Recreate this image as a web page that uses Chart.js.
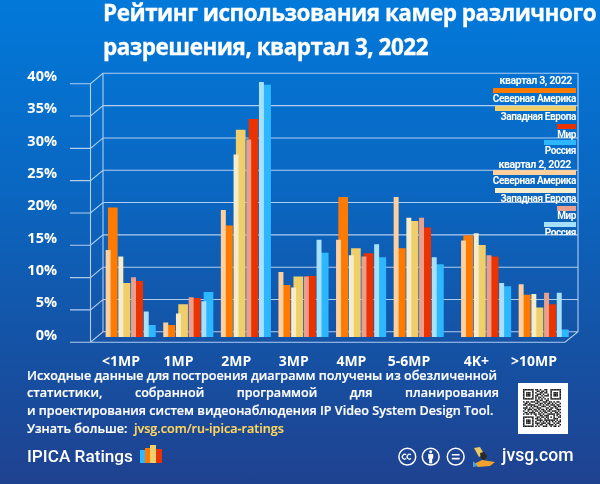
<!DOCTYPE html>
<html>
<head>
<meta charset="utf-8">
<script src="https://cdn.jsdelivr.net/npm/chart.js@4/dist/chart.umd.min.js"></script>
<style>
html,body{margin:0;padding:0;}
body{width:600px;height:484px;position:relative;overflow:hidden;color:#fff;
  font-family:"Open Sans",sans-serif;font-weight:700;
  background:linear-gradient(180deg,#0279da 0%,#0a66c0 40%,#1650a2 75%,#1f4290 100%);}
#chart{position:absolute;left:0;top:0;}
.t{position:absolute;white-space:nowrap;}
.title{left:103px;font-size:22.5px;line-height:30px;letter-spacing:-0.5px;-webkit-text-stroke:0.3px #fff;}
.note{left:27px;width:472px;font-size:12.6px;line-height:18px;font-weight:600;-webkit-text-stroke:0.2px currentColor;}
.just{text-align:justify;text-align-last:justify;white-space:normal;}
.brand{font-family:Roboto,sans-serif;font-weight:500;}
.lg{position:absolute;font-family:Roboto,sans-serif;font-size:10px;line-height:13px;font-weight:700;letter-spacing:-0.4px;text-align:right;white-space:nowrap;}
.lg.head{font-size:10.6px;}
.sw{position:absolute;height:5px;}
svg{position:absolute;}
</style>
</head>
<body>
<canvas id="chart" width="600" height="484"></canvas>
<div class="t title" style="top:-2px">Рейтинг использования камер различного</div>
<div class="t title" style="top:32px">разрешения, квартал 3, 2022</div>
<div class="t note" style="top:367px">Исходные данные для построения диаграмм получены из обезличенной</div>
<div class="t note just" style="top:384px">статистики, собранной программой для планирования</div>
<div class="t note" style="top:402px">и проектирования систем видеонаблюдения IP Video System Design Tool.</div>
<div class="t note" style="top:420px">Узнать больше:&nbsp; <span style="color:#ffd75e">jvsg.com/ru-ipica-ratings</span></div>
<div class="t brand" style="left:27px;top:446px;font-size:17.2px">IPICA Ratings</div>
<div class="t brand" style="left:502px;top:445px;font-size:17.6px">jvsg.com</div>
<svg style="left:140px;top:445px" width="22" height="18">
  <rect x="0" y="5" width="5" height="13" fill="#2db7ff"/>
  <rect x="5" y="3" width="5" height="15" fill="#ff7a00"/>
  <rect x="10" y="0" width="6" height="18" fill="#f0cf6a"/>
  <rect x="16" y="4" width="6" height="14" fill="#ea3300"/>
</svg>
<svg style="left:396px;top:445px" width="102" height="24" fill="none" stroke="#fff" stroke-width="1.5">
  <circle cx="11.3" cy="11.7" r="8.4"/>
  <path d="M10.2 9.8a2.4 2.4 0 1 0 0 3.8M15 9.8a2.4 2.4 0 1 0 0 3.8" stroke-width="1.3"/>
  <circle cx="34.7" cy="11.7" r="8.4"/>
  <circle cx="34.7" cy="6.8" r="1.5" fill="#fff" stroke="none"/>
  <rect x="32.2" y="9" width="5" height="4.6" fill="#fff" stroke="none"/>
  <rect x="33.2" y="13" width="3" height="5.4" fill="#fff" stroke="none"/>
  <circle cx="59.7" cy="11.7" r="8.4"/>
  <path d="M55.8 9.8h7.8M55.8 13.6h7.8" stroke-width="1.6"/>
  <path d="M78 19l8-4 13 2-5 4-12 1z" fill="#f3a32c" stroke="none"/>
  <path d="M77 16l5 5-5 1z" fill="#4aa3e0" stroke="none"/>
  <path d="M78 3l6-1 4 7-5 3z" fill="#e8c860" stroke="none"/>
  <path d="M84 8l4-1 3 4-2 4-4-1z" fill="#2a2a20" stroke="none"/>
</svg>
<svg id="qr" style="left:518px;top:383px" width="50" height="51"></svg>
<div id="legend"></div>
<script>
const categories = ["<1MP","1MP","2MP","3MP","4MP","5-6MP","4K+",">10MP"];
const yTicks = [0,5,10,15,20,25,30,35,40];

const q3Label = "квартал 3, 2022";
const q2Label = "квартал 2, 2022";
const regions = ["Северная Америка","Западная Европа","Мир","Россия"];

const q3NorthAmerica = [20,1.8,17.2,8,21.6,13.7,15.7,6.5];
const q3WestEurope = [8.3,5,32,9.3,13.7,17.9,14.2,4.5];
const q3World = [8.6,6,33.7,9.4,12.9,16.9,12.4,5];
const q3Russia = [1.8,6.9,39,13,12.3,11.2,7.8,1.1];

const q2NorthAmerica = [13.4,2.2,19.6,10,15,21.6,14.9,8.1];
const q2WestEurope = [12.4,3.6,28.2,7.6,12.6,18.4,16,6.6];
const q2World = [9.2,6.1,30.5,9.3,12.4,18.4,12.6,6.8];
const q2Russia = [3.9,5.5,39.4,15,14.3,12.3,8.3,6.8];

const q3Colors = ["#ff7a00","#f0cf6a","#ea3300","#2db7ff"];
const q2Colors = ["#ffcf9e","#f5eccb","#ea9f8c","#a6e0fb"];

// 4K+ group sits a bit apart from its neighbours in the original
function groupPos(i){ return i + (i >= 6 ? 0.17 : 0); }

function makeSet(label, values, color, region, isQ2){
    let off = region * 0.2205 + (isQ2 ? 0.037 : 0.118);
    return {
        label: label,
        data: values.map((v,i)=>({x: groupPos(i)+off, y: v})),
        backgroundColor: color,
        barThickness: isQ2 ? 4.3 : 9,
        grouped: false,
        order: isQ2 ? 0 : 1
    };
}

// pseudo-3D box: back wall, front ticks and the diagonals between them
const wallPlugin = {
    id: "walls",
    beforeDatasetsDraw(chart){
        let ctx = chart.ctx, y = chart.scales.y, a = chart.chartArea;
        let depth = 5.2, backX = a.left + 12.5, frontStart = 70, frontEnd = a.right - 13;
        ctx.save();
        ctx.strokeStyle = "rgba(205,225,250,0.85)";
        ctx.lineWidth = 1.1;
        ctx.beginPath();
        yTicks.forEach(v=>{
            let p = y.getPixelForValue(v);
            ctx.moveTo(frontStart, p+depth); ctx.lineTo(a.left, p+depth);
            ctx.lineTo(backX, p-depth); ctx.lineTo(a.right, p-depth);
        });
        let top = y.getPixelForValue(40), bottom = y.getPixelForValue(0);
        ctx.moveTo(a.left, top+depth); ctx.lineTo(a.left, bottom+depth);
        ctx.moveTo(backX, top-depth); ctx.lineTo(backX, bottom-depth);
        ctx.moveTo(a.right, top-depth); ctx.lineTo(a.right, bottom-depth);
        ctx.lineTo(frontEnd, bottom+depth); ctx.lineTo(a.left, bottom+depth);
        ctx.stroke();
        ctx.restore();
    }
};

new Chart(document.getElementById("chart"), {
    type: "bar",
    plugins: [wallPlugin],
    data: {
        datasets: [
            makeSet(regions[0]+" Q2", q2NorthAmerica, q2Colors[0], 0, true),
            makeSet(regions[1]+" Q2", q2WestEurope, q2Colors[1], 1, true),
            makeSet(regions[2]+" Q2", q2World, q2Colors[2], 2, true),
            makeSet(regions[3]+" Q2", q2Russia, q2Colors[3], 3, true),
            makeSet(regions[0]+" Q3", q3NorthAmerica, q3Colors[0], 0, false),
            makeSet(regions[1]+" Q3", q3WestEurope, q3Colors[1], 1, false),
            makeSet(regions[2]+" Q3", q3World, q3Colors[2], 2, false),
            makeSet(regions[3]+" Q3", q3Russia, q3Colors[3], 3, false)
        ]
    },
    options: {
        responsive: false,
        animation: false,
        layout: {padding: {top: 78.5, right: 22, left: 0, bottom: 0}},
        plugins: {legend: {display: false}, tooltip: {enabled: false}},
        scales: {
            x: {
                type: "linear",
                offset: false,
                min: -0.269,
                max: 8.194,
                grid: {display: false},
                border: {display: false},
                afterFit(s){ s.height = 147; },
                afterBuildTicks(s){
                    s.ticks = categories.map((c,i)=>({value: groupPos(i)+0.26, label: c}));
                },
                afterTickToLabelConversion(s){
                    s.ticks.forEach((t,i)=>{ t.label = categories[i]; });
                },
                ticks: {
                    autoSkip: false,
                    maxRotation: 0,
                    color: "#fff",
                    padding: 9,
                    font: {family: "Open Sans", size: 14, weight: "bold"}
                }
            },
            y: {
                min: 0,
                max: 40,
                grid: {display: false},
                border: {display: false},
                afterFit(s){ s.width = 90.5; },
                afterBuildTicks(s){ s.ticks = yTicks.map(v=>({value: v})); },
                ticks: {
                    color: "#fff",
                    padding: 25.5,
                    labelOffset: -1.5,
                    callback: v => v + "%",
                    font: {family: "Open Sans", size: 14.5, weight: "bold"}
                }
            }
        }
    }
});

// legend: rows of colour strips with the name below, right aligned
let legendTop = [[80,98.5,116.7,134,150.7],[164.3,180.3,198.3,215.7,232.7]];
let stripTop = [[88,105.7,123.7,140],[170.3,188,205.7,222.3]];
let stripWidth = [83,81,19,32];
let legend = document.getElementById("legend");
function addLegend(text, center, right, clip, head){
    let d = document.createElement("div");
    d.className = head ? "lg head" : "lg";
    d.textContent = text;
    d.style.top = (center-6.5)+"px";
    d.style.right = right+"px";
    if(clip){ d.style.height = (clip-(center-6.5))+"px"; d.style.overflow = "hidden"; }
    legend.appendChild(d);
}
[[q3Label,q3Colors,28],[q2Label,q2Colors,29]].forEach((q,k)=>{
    addLegend(q[0], legendTop[k][0], q[2], 0, true);
    regions.forEach((r,i)=>{
        let s = document.createElement("div");
        s.className = "sw";
        s.style.background = q[1][i];
        s.style.top = stripTop[k][i]+"px";
        s.style.right = "24px";
        s.style.width = stripWidth[i]+"px";
        legend.appendChild(s);
        addLegend(r, legendTop[k][i+1], 24, k==1 && i==3 ? 235 : 0);
    });
});

// QR block: only the look of one, hand-typed modules
const qrRows = [
"1111111011010011001111111",
"1000001001101101001000001",
"1011101010011011001011101",
"1011101001110100101011101",
"1011101011001011101011101",
"1000001010110100001000001",
"1111111010101010101111111",
"0000000011011001100000000",
"1011011101100111011010110",
"0110100011011010110101001",
"1101111100110101101110110",
"0010010111001110010011011",
"1110101001110001101101100",
"0101110110101101011000111",
"1001001011010110110111010",
"0110111100101011001001101",
"1011010110110100111110110",
"0000000010011011100010101",
"1111111001101101101010011",
"1000001011010010100011100",
"1011101001111011111110101",
"1011101010010101010101011",
"1011101011101110110010110",
"1000001001011001011101001",
"1111111010100111001011010"];
let qrSvg = '<rect width="50" height="51" fill="#fff"/>';
qrRows.forEach((row,r)=>{
    [...row].forEach((m,c)=>{
        if(m === "1") qrSvg += `<rect x="${5+c*1.52}" y="${6+r*1.52}" width="1.52" height="1.52" fill="#1a1a1a"/>`;
    });
});
document.getElementById("qr").innerHTML = qrSvg;
</script>
</body>
</html>
